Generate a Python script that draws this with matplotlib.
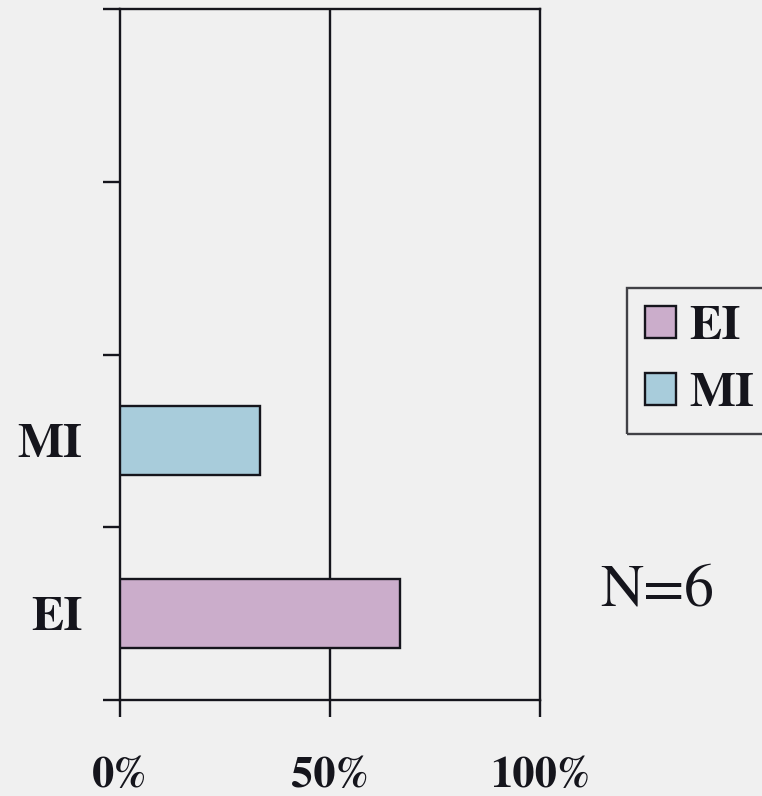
import matplotlib
matplotlib.use("Agg")
import matplotlib.pyplot as plt
from matplotlib import font_manager
from matplotlib.font_manager import FontProperties
from matplotlib.patches import Patch
from matplotlib.ticker import FixedLocator

# Share of respondents per group (N=6)
slot_labels = ["EI", "MI", "", ""]
series_names = ["EI", "MI"]
series_values = [66.7, 33.3]          # percent
series_slots = [0, 1]
series_colors = ["#CBADCB", "#A8CCDB"]
x_ticks = [0, 50, 100]
x_tick_labels = ["0%", "50%", "100%"]
note_text = "N=6"


def serif_font(bold, size):
    """Times-like serif, looked up by file so the right weight is used."""
    for fam in ["STIXGeneral", "FreeSerif", "Liberation Serif"]:
        for f in font_manager.fontManager.ttflist:
            if f.name != fam or f.style != "normal":
                continue
            w = f.weight if isinstance(f.weight, int) else font_manager.weight_dict.get(f.weight, 400)
            if (w >= 600) == bold:
                return FontProperties(fname=f.fname, size=size)
    return FontProperties(family="DejaVu Serif", weight="bold" if bold else "normal", size=size)


W, H = 762, 796
bg = "#F0F0F0"
ink = "#15151C"
lw = 1.7

fig = plt.figure(figsize=(W / 100, H / 100), dpi=100)
fig.patch.set_facecolor(bg)
ax = fig.add_axes([120 / W, 1 - 700 / H, 420 / W, 691 / H])
ax.set_facecolor("none")

for name, val, slot, col in zip(series_names, series_values, series_slots, series_colors):
    ax.barh(slot, val, height=0.4, color=col, edgecolor=ink, linewidth=lw, zorder=3, label=name)

ax.set_xlim(0, 100)
ax.set_ylim(-0.5, len(slot_labels) - 0.5)

# gridline at 50%
ax.axvline(50, color=ink, linewidth=lw, zorder=1)

for s in ax.spines.values():
    s.set_color(ink)
    s.set_linewidth(lw)

ax.set_xticks(x_ticks)
ax.set_xticklabels(x_tick_labels, fontproperties=serif_font(True, 32))
ax.tick_params(axis="x", direction="out", length=12, width=lw, color=ink, pad=29, labelcolor=ink)

ax.set_yticks(range(len(slot_labels)))
ax.set_yticklabels(slot_labels, fontproperties=serif_font(True, 35))
ax.tick_params(axis="y", which="major", length=0, pad=27, labelcolor=ink)
ax.yaxis.set_minor_locator(FixedLocator([i - 0.5 for i in range(len(slot_labels) + 1)]))
ax.tick_params(axis="y", which="minor", direction="out", length=12, width=lw, color=ink)

handles = [Patch(facecolor=c, edgecolor=ink, linewidth=lw, label=n)
           for n, c in zip(series_names, series_colors)]
leg = ax.legend(handles=handles, loc="upper left",
                bbox_to_anchor=(627 / W, 1 - 288 / H), bbox_transform=fig.transFigure,
                borderaxespad=0, frameon=True, fancybox=False,
                prop=serif_font(True, 35),
                handlelength=0.64, handleheight=0.64, handletextpad=0.28,
                labelspacing=0.5, borderpad=0.36)
leg.get_frame().set_edgecolor(ink)
leg.get_frame().set_linewidth(lw)
leg.get_frame().set_facecolor("none")
for t in leg.get_texts():
    t.set_color(ink)

fig.text(600 / W, 1 - 605 / H, note_text, fontproperties=serif_font(False, 43),
         color=ink, ha="left", va="baseline")

fig.savefig("out.png", dpi=100, facecolor=bg)
